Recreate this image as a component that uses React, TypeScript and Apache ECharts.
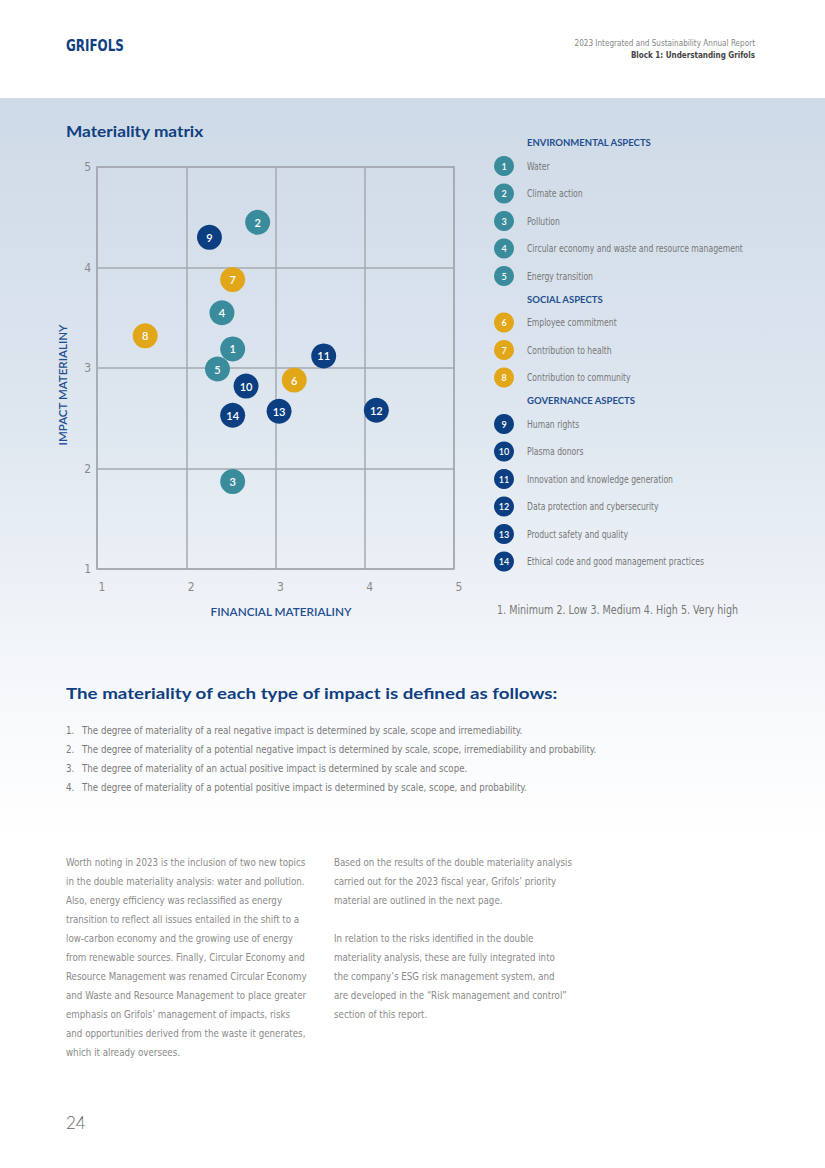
import React, { useEffect, useRef } from "react";
import * as echarts from "echarts";

// ---------- DATA ----------
const topicIds = [1, 2, 3, 4, 5, 6, 7, 8, 9, 10, 11, 12, 13, 14];
const topicNames = [
  "Water",
  "Climate action",
  "Pollution",
  "Circular economy and waste and resource management",
  "Energy transition",
  "Employee commitment",
  "Contribution to health",
  "Contribution to community",
  "Human rights",
  "Plasma donors",
  "Innovation and knowledge generation",
  "Data protection and cybersecurity",
  "Product safety and quality",
  "Ethical code and good management practices",
];
const topicGroups = ["env", "env", "env", "env", "env", "soc", "soc", "soc", "gov", "gov", "gov", "gov", "gov", "gov"];
const financialMateriality = [2.52, 2.8, 2.52, 2.4, 2.35, 3.21, 2.52, 1.54, 2.26, 2.67, 3.54, 4.13, 3.04, 2.52];
const impactMateriality = [3.19, 4.45, 1.87, 3.55, 2.99, 2.88, 3.88, 3.32, 4.3, 2.82, 3.12, 2.58, 2.57, 2.53];

const groupKeys = ["env", "soc", "gov"];
const groupTitles = ["ENVIRONMENTAL ASPECTS", "SOCIAL ASPECTS", "GOVERNANCE ASPECTS"];
const axisTicks = [1, 2, 3, 4, 5];
const scaleNote = "1. Minimum 2. Low 3. Medium 4. High 5. Very high";

const definitions = [
  "The degree of materiality of a real negative impact is determined by scale, scope and irremediability.",
  "The degree of materiality of a potential negative impact is determined by scale, scope, irremediability and probability.",
  "The degree of materiality of an actual positive impact is determined by scale and scope.",
  "The degree of materiality of a potential positive impact is determined by scale, scope, and probability.",
];
const leftParagraph = [
  "Worth noting in 2023 is the inclusion of two new topics",
  "in the double materiality analysis: water and pollution.",
  "Also, energy efficiency was reclassified as energy",
  "transition to reflect all issues entailed in the shift to a",
  "low-carbon economy and the growing use of energy",
  "from renewable sources. Finally, Circular Economy and",
  "Resource Management was renamed Circular Economy",
  "and Waste and Resource Management to place greater",
  "emphasis on Grifols\u2019 management of impacts, risks",
  "and opportunities derived from the waste it generates,",
  "which it already oversees.",
];
const rightParagraph = [
  "Based on the results of the double materiality analysis",
  "carried out for the 2023 fiscal year, Grifols\u2019 priority",
  "material are outlined in the next page.",
  "",
  "In relation to the risks identified in the double",
  "materiality analysis, these are fully integrated into",
  "the company\u2019s ESG risk management system, and",
  "are developed in the \u201cRisk management and control\u201d",
  "section of this report.",
];

// ---------- STYLE ----------
const COLORS: Record<string, string> = { env: "#3a8c9d", soc: "#e1a719", gov: "#0c3f82" };
const NAVY = "#0f3f80";
const NARROW = "'Liberation Sans Narrow', 'DejaVu Sans Condensed', 'Liberation Sans', sans-serif";
const HEAD = "Lato, 'Open Sans', sans-serif";

function txt(text: string, x: number, y: number, style: any, extra: any = {}) {
  return {
    type: "text",
    x,
    y,
    silent: true,
    ...extra,
    style: { text, align: "left", verticalAlign: "middle", ...style },
  };
}

export default function App() {
  const ref = useRef<HTMLDivElement>(null);

  useEffect(() => {
    if (!ref.current) return;
    const chart = echarts.init(ref.current, undefined, { renderer: "svg" });

    const graphics: any[] = [];
    graphics.push({
      type: "rect",
      silent: true,
      z: -10,
      shape: { x: 0, y: 98, width: 825, height: 742 },
      style: {
        fill: new echarts.graphic.LinearGradient(0, 0, 0, 1, [
          { offset: 0, color: "#cedae7" },
          { offset: 0.45, color: "#dfe7f0" },
          { offset: 0.8, color: "#f6f8fb" },
          { offset: 1, color: "#ffffff" },
        ]),
      },
    });
    // header
    graphics.push(txt("GRIFOLS", 66, 45, { fontFamily: NARROW, fontWeight: "bold", fontSize: 16, fill: NAVY }, { scaleX: 0.83 }));
    graphics.push(
      txt("2023 Integrated and Sustainability Annual Report", 755, 43, {
        fontFamily: NARROW, fontSize: 9, fill: "#858585", align: "right",
      }, { scaleX: 0.9 })
    );
    graphics.push(
      txt("Block 1: Understanding Grifols", 755, 55, {
        fontFamily: NARROW, fontSize: 9, fontWeight: "bold", fill: "#444444", align: "right",
      }, { scaleX: 0.89 })
    );
    // title
    graphics.push(txt("Materiality matrix", 66, 131, { fontFamily: HEAD, fontWeight: "bold", fontSize: 16, fill: NAVY }, { scaleX: 1.08 }));
    // axis names
    graphics.push(
      txt("IMPACT MATERIALINY", 63, 385, { fontFamily: HEAD, fontWeight: 600, fontSize: 11, fill: "#1f4f8f", align: "center" }, { rotation: Math.PI / 2, scaleX: 1.05 })
    );
    graphics.push(
      txt("FINANCIAL MATERIALINY", 281, 612, { fontFamily: HEAD, fontWeight: 600, fontSize: 11, fill: "#1f4f8f", align: "center" }, { scaleX: 1.07 })
    );

    // legend
    let y = 143;
    groupKeys.forEach((g, gi) => {
      if (gi > 0) y += 23.5;
      graphics.push(txt(groupTitles[gi], 527, y, { fontFamily: HEAD, fontWeight: "bold", fontSize: 9, fill: "#1f4f8f" }, { scaleX: 1.06 }));
      let first = true;
      topicIds.forEach((id, i) => {
        if (topicGroups[i] !== g) return;
        y += first ? 23 : 27.5;
        first = false;
        graphics.push({
          type: "circle",
          silent: true,
          shape: { cx: 504, cy: y, r: 10 },
          style: { fill: COLORS[g] },
        });
        graphics.push(
          txt(String(id), 504, y, { fontFamily: HEAD, fontWeight: 600, fontSize: 9, fill: "#ffffff", align: "center" })
        );
        graphics.push(txt(topicNames[i], 527, y, { fontFamily: NARROW, fontSize: 10, fill: "#777777" }, { scaleX: 0.855 }));
      });
    });
    graphics.push(txt(scaleNote, 497, 610, { fontFamily: NARROW, fontSize: 12.5, fill: "#777777" }, { scaleX: 0.85 }));

    // definitions
    graphics.push(
      txt("The materiality of each type of impact is defined as follows:", 66, 693, {
        fontFamily: HEAD, fontWeight: "bold", fontSize: 16, fill: NAVY,
      }, { scaleX: 1.17 })
    );
    definitions.forEach((d, i) => {
      const yy = 730 + i * 19;
      graphics.push(txt(`${i + 1}.`, 66, yy, { fontFamily: NARROW, fontSize: 10.5, fill: "#7a7a7a" }, { scaleX: 0.92 }));
      graphics.push(txt(d, 82, yy, { fontFamily: NARROW, fontSize: 10.5, fill: "#7a7a7a" }, { scaleX: 0.92 }));
    });

    // paragraphs
    leftParagraph.forEach((l, i) => {
      graphics.push(txt(l, 66, 862 + i * 19, { fontFamily: NARROW, fontSize: 11, fill: "#8a8a8a" }, { scaleX: 0.88 }));
    });
    rightParagraph.forEach((l, i) => {
      if (!l) return;
      graphics.push(txt(l, 334, 862 + i * 19, { fontFamily: NARROW, fontSize: 11, fill: "#8a8a8a" }, { scaleX: 0.88 }));
    });
    graphics.push(txt("24", 66, 1122, { fontFamily: HEAD, fontWeight: 300, fontSize: 17, fill: "#666666" }));

    const series = groupKeys.map((g) => ({
      type: "scatter",
      name: g,
      symbolSize: 25,
      itemStyle: { color: COLORS[g], opacity: 1 },
      label: {
        show: true,
        position: "inside",
        formatter: (p: any) => String(p.value[2]),
        color: "#ffffff",
        fontFamily: HEAD,
        fontWeight: 600,
        fontSize: 11,
      },
      data: topicIds
        .map((id, i) => ({ id, i }))
        .filter(({ i }) => topicGroups[i] === g)
        .map(({ id, i }) => [financialMateriality[i], impactMateriality[i], id]),
    }));

    chart.setOption({
      animation: false,
      backgroundColor: "#ffffff",
      grid: {
        left: 97,
        top: 167,
        width: 357,
        height: 402,
        show: true,
        borderColor: "#a4a9b0",
        borderWidth: 1.5,
        backgroundColor: "transparent",
      },
      xAxis: {
        type: "value",
        min: axisTicks[0],
        max: axisTicks[axisTicks.length - 1],
        interval: 1,
        axisLine: { show: false },
        axisTick: { show: false },
        axisLabel: { color: "#8a8a8a", fontSize: 12, fontFamily: NARROW, margin: 12, padding: [0, 0, 0, 10] },
        splitLine: { show: true, lineStyle: { color: "#a4a9b0", width: 1.5 } },
      },
      yAxis: {
        type: "value",
        min: axisTicks[0],
        max: axisTicks[axisTicks.length - 1],
        interval: 1,
        axisLine: { show: false },
        axisTick: { show: false },
        axisLabel: { color: "#8a8a8a", fontSize: 12, fontFamily: NARROW, margin: 6, padding: [6, 0, 0, 0] },
        splitLine: { show: true, lineStyle: { color: "#a4a9b0", width: 1.5 } },
      },
      graphic: graphics,
      series,
    });

    return () => chart.dispose();
  }, []);

  return <div ref={ref} style={{ position: "absolute", left: 0, top: 0, width: 825, height: 1168 }} />;
}
